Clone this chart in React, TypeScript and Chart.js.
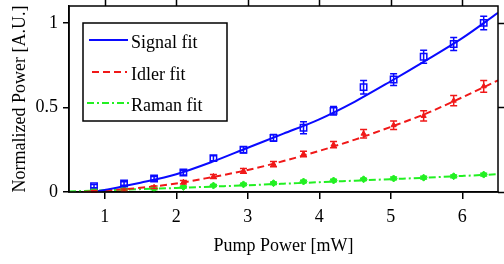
import React, { useEffect, useRef } from "react";
import { Chart, registerables } from "chart.js";

Chart.register(...registerables);

// ---- data ----
const pumpPower = [0.85, 1.27, 1.69, 2.1, 2.52, 2.94, 3.36, 3.78, 4.2, 4.62, 5.04, 5.46, 5.88, 6.3];
const signalData = [0.035, 0.05, 0.08, 0.115, 0.2, 0.25, 0.32, 0.38, 0.48, 0.62, 0.665, 0.8, 0.875, 1.0];
const signalErr = [0.01, 0.01, 0.012, 0.014, 0.015, 0.018, 0.02, 0.035, 0.025, 0.04, 0.035, 0.038, 0.038, 0.04];
const idlerData = [0.004, 0.012, 0.028, 0.058, 0.092, 0.125, 0.165, 0.225, 0.28, 0.345, 0.395, 0.45, 0.54, 0.625];
const idlerErr = [0.005, 0.006, 0.008, 0.01, 0.012, 0.014, 0.015, 0.016, 0.018, 0.025, 0.025, 0.03, 0.03, 0.035];
const ramanData = [0.01, 0.015, 0.02, 0.03, 0.038, 0.045, 0.052, 0.062, 0.068, 0.075, 0.08, 0.085, 0.093, 0.103];
const ramanErr = [0.006, 0.006, 0.006, 0.006, 0.006, 0.007, 0.007, 0.007, 0.007, 0.007, 0.008, 0.008, 0.008, 0.008];

const signalFitX = [0.85, 1, 1.5, 2, 2.5, 3, 3.5, 4, 4.5, 5, 5.5, 6, 6.5];
const signalFit = [0, 0.012, 0.055, 0.105, 0.178, 0.262, 0.345, 0.43, 0.535, 0.655, 0.78, 0.91, 1.06];
const idlerFitX = [0.7, 1, 1.5, 2, 2.5, 3, 3.5, 4, 4.5, 5, 5.5, 6, 6.5];
const idlerFit = [0, 0.008, 0.025, 0.05, 0.088, 0.13, 0.183, 0.243, 0.31, 0.385, 0.465, 0.56, 0.66];
const ramanFitX = [0.5, 1, 1.5, 2, 2.5, 3, 3.5, 4, 4.5, 5, 5.5, 6, 6.5];
const ramanFit = [0.003, 0.01, 0.017, 0.024, 0.032, 0.04, 0.049, 0.058, 0.067, 0.076, 0.085, 0.095, 0.105];

const xTicks = [1, 2, 3, 4, 5, 6];
const yTicks = [0, 0.5, 1];
const yTickLabels = ["0", "0.5", "1"];
const legendLabels = ["Signal fit", "Idler fit", "Raman fit"];

const BLUE = "#0a0aff";
const RED = "#f01818";
const GREEN = "#22f022";
const FONT = "'Liberation Serif', 'Times New Roman', serif";

const pts = (xs: number[], ys: number[]) => xs.map((x, i) => ({ x, y: ys[i] }));

const extrasPlugin = {
  id: "extras",
  afterDatasetsDraw(chart: any) {
    const ctx = chart.ctx;
    const xs = chart.scales.x;
    const ys = chart.scales.y;
    const drawErr = (vals: number[], errs: number[], color: string, cap: number) => {
      ctx.save();
      ctx.strokeStyle = color;
      ctx.lineWidth = 1.5;
      vals.forEach((v, i) => {
        const px = xs.getPixelForValue(pumpPower[i]);
        const y1 = ys.getPixelForValue(v + errs[i]);
        const y2 = ys.getPixelForValue(Math.max(0, v - errs[i]));
        ctx.beginPath();
        ctx.moveTo(px, y1);
        ctx.lineTo(px, y2);
        ctx.moveTo(px - cap, y1);
        ctx.lineTo(px + cap, y1);
        ctx.moveTo(px - cap, y2);
        ctx.lineTo(px + cap, y2);
        ctx.stroke();
      });
      ctx.restore();
    };
    drawErr(ramanData, ramanErr, GREEN, 3.5);
    drawErr(idlerData, idlerErr, RED, 3.5);
    drawErr(signalData, signalErr, BLUE, 3.5);
  },
  afterDraw(chart: any) {
    const ctx = chart.ctx;
    const { left, right, top, bottom } = chart.chartArea;
    const xs = chart.scales.x;
    const ys = chart.scales.y;
    ctx.save();
    ctx.strokeStyle = "#000";
    ctx.lineWidth = 1.5;
    ctx.strokeRect(left, top, right - left, bottom - top);
    // top ticks
    ctx.beginPath();
    xTicks.forEach((t) => {
      const px = Math.round(xs.getPixelForValue(t)) + 0.5;
      ctx.moveTo(px, top);
      ctx.lineTo(px, top - 6);
    });
    // right ticks
    yTicks.forEach((t) => {
      const py = Math.round(ys.getPixelForValue(t)) + 0.5;
      ctx.moveTo(right, py);
      ctx.lineTo(right + 6, py);
    });
    ctx.stroke();

    // legend
    ctx.fillStyle = "#fff";
    ctx.fillRect(83, 23, 144, 98);
    ctx.strokeStyle = "#000";
    ctx.lineWidth = 1.5;
    ctx.strokeRect(83, 23, 144, 98);
    const entries = [
      { color: BLUE, dash: [] as number[], y: 40, x1: 89, x2: 128 },
      { color: RED, dash: [7, 4], y: 72, x1: 92, x2: 127 },
      { color: GREEN, dash: [7, 3, 2, 3], y: 103, x1: 87, x2: 129 },
    ];
    entries.forEach((e, i) => {
      ctx.beginPath();
      ctx.strokeStyle = e.color;
      ctx.lineWidth = 1.8;
      ctx.setLineDash(e.dash);
      ctx.moveTo(e.x1, e.y);
      ctx.lineTo(e.x2, e.y);
      ctx.stroke();
      ctx.setLineDash([]);
      ctx.fillStyle = "#000";
      ctx.font = `18px ${FONT}`;
      ctx.textAlign = "left";
      ctx.textBaseline = "middle";
      ctx.fillText(legendLabels[i], 131, e.y + 3);
    });
    ctx.restore();
  },
};

export default function App() {
  const ref = useRef<HTMLCanvasElement | null>(null);
  useEffect(() => {
    if (!ref.current) return;
    const chart = new Chart(ref.current, {
      type: "scatter",
      data: {
        datasets: [
          {
            label: "Signal",
            data: pts(pumpPower, signalData),
            pointStyle: "rect",
            pointRadius: 4.5,
            pointBorderWidth: 1.5,
            borderColor: BLUE,
            backgroundColor: "rgba(0,0,0,0)",
            showLine: false,
          },
          {
            label: "Idler",
            data: pts(pumpPower, idlerData),
            pointStyle: "triangle",
            pointRadius: 3,
            borderColor: RED,
            backgroundColor: RED,
            showLine: false,
          },
          {
            label: "Raman",
            data: pts(pumpPower, ramanData),
            pointStyle: "rectRot",
            pointRadius: 3.5,
            borderColor: GREEN,
            backgroundColor: GREEN,
            showLine: false,
          },
          {
            label: "Signal fit",
            data: pts(signalFitX, signalFit),
            showLine: true,
            pointRadius: 0,
            borderColor: BLUE,
            borderWidth: 2,
            cubicInterpolationMode: "monotone",
          },
          {
            label: "Idler fit",
            data: pts(idlerFitX, idlerFit),
            showLine: true,
            pointRadius: 0,
            borderColor: RED,
            borderWidth: 2,
            borderDash: [7, 4],
            cubicInterpolationMode: "monotone",
          },
          {
            label: "Raman fit",
            data: pts(ramanFitX, ramanFit),
            showLine: true,
            pointRadius: 0,
            borderColor: GREEN,
            borderWidth: 2,
            borderDash: [7, 3, 2, 3],
            cubicInterpolationMode: "monotone",
          },
        ],
      },
      options: {
        animation: false,
        responsive: false,
        layout: { padding: { top: 5, right: 2, left: 0, bottom: 0 } },
        plugins: { legend: { display: false }, tooltip: { enabled: false } },
        scales: {
          x: {
            type: "linear",
            min: 0.5,
            max: 6.5,
            afterBuildTicks: (s: any) => {
              s.ticks = xTicks.map((v) => ({ value: v }));
            },
            afterFit: (s: any) => {
              s.height = 72;
              s.paddingLeft = 0;
              s.paddingRight = 0;
            },
            ticks: {
              color: "#000",
              font: { family: FONT, size: 18 },
              padding: 7,
              maxRotation: 0,
            },
            grid: { drawOnChartArea: false, drawTicks: true, tickLength: 7, color: "#000", lineWidth: 1.5 },
            border: { display: true, color: "#000", width: 1.5 },
            title: {
              display: true,
              text: "Pump Power [mW]",
              color: "#000",
              font: { family: FONT, size: 18 },
              padding: { top: 0, bottom: 7 },
            },
          },
          y: {
            type: "linear",
            min: 0,
            max: 1.1,
            afterBuildTicks: (s: any) => {
              s.ticks = yTicks.map((v) => ({ value: v }));
            },
            afterFit: (s: any) => {
              s.width = 69;
              s.paddingTop = 0;
              s.paddingBottom = 0;
            },
            ticks: {
              color: "#000",
              font: { family: FONT, size: 18 },
              padding: 5,
              callback: (v: any) => yTickLabels[yTicks.indexOf(Number(v))] ?? "",
            },
            grid: { drawOnChartArea: false, drawTicks: true, tickLength: 6, color: "#000", lineWidth: 1.5 },
            border: { display: true, color: "#000", width: 1.5 },
            title: {
              display: true,
              text: "Normalized Power [A.U.]",
              color: "#000",
              font: { family: FONT, size: 18 },
              padding: { top: 9, bottom: 0 },
            },
          },
        },
      },
      plugins: [extrasPlugin],
    } as any);
    return () => chart.destroy();
  }, []);
  return (
    <div style={{ position: "absolute", left: 0, top: 0, width: 504, height: 264, background: "#fff" }}>
      <canvas ref={ref} width={504} height={264} style={{ display: "block" }} />
    </div>
  );
}
